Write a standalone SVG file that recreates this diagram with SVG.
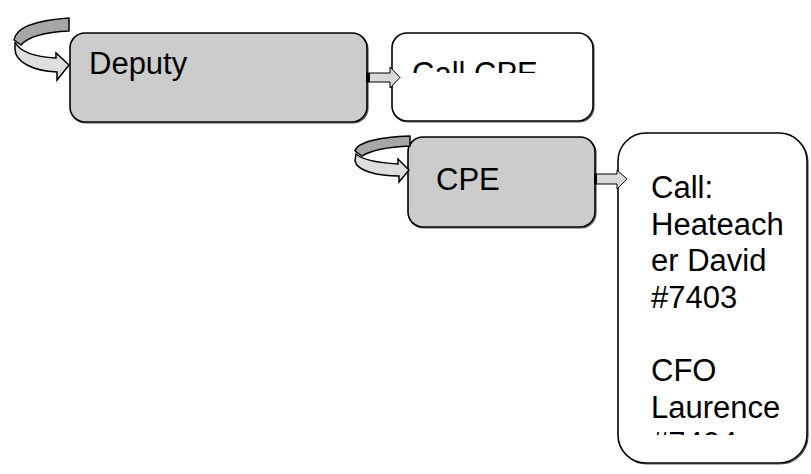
<svg xmlns="http://www.w3.org/2000/svg" width="811" height="474" viewBox="0 0 811 474">
  <defs>
    <style>
      .box { stroke: #000; stroke-width: 1.6; }
      .grey { fill: #cccccc; }
      .white { fill: #ffffff; }
      .shadow { fill: none; stroke: #555; stroke-width: 1.2; }
      .label { font-family: "Liberation Sans", Arial, sans-serif; font-size: 31px; fill: #000; }
      .arrow { fill: #d9d9d9; stroke: #000; stroke-width: 1; stroke-linejoin: miter; }
      .loop-back { fill: #a6a6a6; stroke: #000; stroke-width: 1.5; stroke-linejoin: round; }
      .loop-front { fill: #dedede; stroke: #000; stroke-width: 1.5; stroke-linejoin: miter; }
    </style>
    <clipPath id="clip-callcpe">
      <rect x="392" y="33" width="201" height="40"/>
    </clipPath>
    <clipPath id="clip-contacts">
      <rect x="618" y="133" width="189" height="302"/>
    </clipPath>
  </defs>

  <g id="node-deputy">
    <rect class="shadow" x="71" y="34" width="297" height="89" rx="15"/>
    <rect class="box grey" x="70" y="33" width="297" height="89" rx="15"/>
    <text class="label" x="89" y="74">Deputy</text>
  </g>

  <g id="loop-deputy">
    <path class="loop-back" d="M14,40 C16,26 40,20 69,18 L69,31 C46,32 28,37 21,45 Z"/>
    <path class="loop-front" d="M15,42 C20,52 36,57 56,58 L56,53 L69,65 L57,80 L57,72 C33,71 15,62 15,49 Z"/>
  </g>

  <g id="node-call-cpe">
    <rect class="shadow" x="393" y="34" width="201" height="88" rx="15"/>
    <rect class="box white" x="392" y="33" width="201" height="88" rx="15"/>
    <text class="label" x="412" y="84" clip-path="url(#clip-callcpe)">Call CPE</text>
  </g>

  <g id="node-cpe">
    <rect class="shadow" x="409" y="138" width="187" height="90" rx="15"/>
    <rect class="box grey" x="408" y="137" width="187" height="90" rx="15"/>
    <text class="label" x="436" y="190">CPE</text>
  </g>

  <g id="loop-cpe">
    <path class="loop-back" d="M355,151 C357,142 380,137 410,136 L410,146 C388,147 370,151 362,156 Z"/>
    <path class="loop-front" d="M356,154 C363,160 380,163 398,164 L398,159 L409,170 L399,182 L399,176 C378,176 357,171 355,161 Z"/>
  </g>

  <g id="node-contacts">
    <rect class="shadow" x="619" y="134" width="189" height="330" rx="28"/>
    <rect class="box white" x="618" y="133" width="189" height="330" rx="28"/>
    <text class="label" clip-path="url(#clip-contacts)">
      <tspan x="651" y="198">Call:</tspan>
      <tspan x="651" y="234.5">Heateach</tspan>
      <tspan x="651" y="271">er David</tspan>
      <tspan x="651" y="307.5">#7403</tspan>
      <tspan x="651" y="381">CFO</tspan>
      <tspan x="651" y="417.5">Laurence</tspan>
      <tspan x="651" y="454">#7404</tspan>
    </text>
  </g>

  <g id="connectors">
    <!-- Deputy to Call CPE -->
    <path class="arrow" d="M367,73 L390,73 L390,67 L400,77.5 L390,88 L390,82 L367,82 Z"/>
    <rect x="366" y="73" width="4" height="9" fill="#000"/>
    <!-- CPE to contacts -->
    <path class="arrow" d="M595,174 L617,174 L617,170 L627,179 L617,189 L617,184 L595,184 Z"/>
    <rect x="594" y="174" width="3" height="10" fill="#000"/>
  </g>
</svg>
